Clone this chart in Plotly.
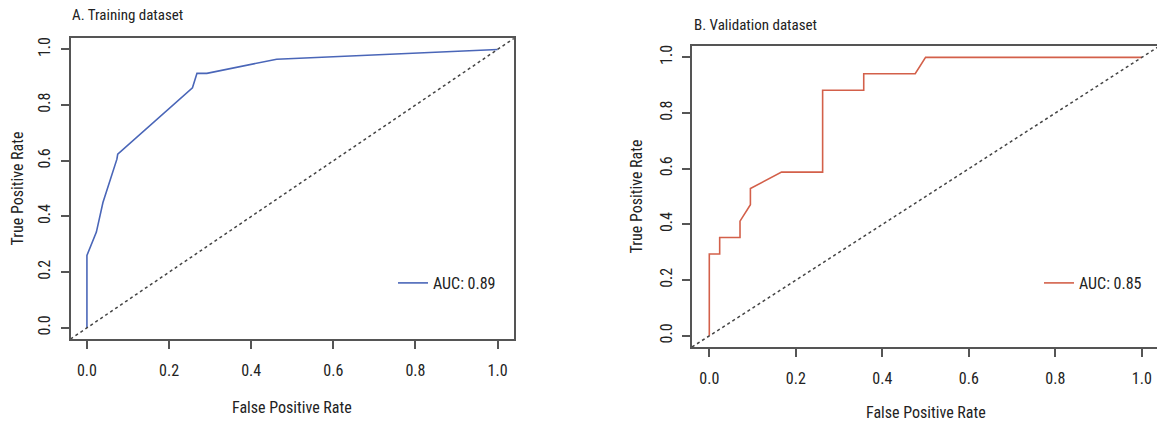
import plotly.graph_objects as go

# ---- data ----
train_fpr = [0.0, 0.0, 0.023, 0.039, 0.073, 0.075, 0.257, 0.268, 0.292, 0.462, 1.0]
train_tpr = [0.0, 0.26, 0.344, 0.45, 0.606, 0.624, 0.862, 0.914, 0.914, 0.965, 1.0]
train_auc = 0.89

valid_fpr = [0.0, 0.0, 0.024, 0.024, 0.071, 0.071, 0.095, 0.095, 0.167, 0.262, 0.262, 0.357, 0.357, 0.476, 0.5, 1.0]
valid_tpr = [0.0, 0.294, 0.294, 0.353, 0.353, 0.412, 0.471, 0.529, 0.588, 0.588, 0.882, 0.882, 0.941, 0.941, 1.0, 1.0]
valid_auc = 0.85

tick_vals = [0.0, 0.2, 0.4, 0.6, 0.8, 1.0]
tick_text = ["0.0", "0.2", "0.4", "0.6", "0.8", "1.0"]
diag = [-0.04, 1.04]

panel_titles = ["A. Training dataset", "B. Validation dataset"]
x_title = "False Positive Rate"
y_title = "True Positive Rate"

# ---- style ----
W, H = 1157, 421
FONT = "Liberation Sans Narrow, Arial Narrow, Roboto Condensed, DejaVu Sans Condensed, Liberation Sans, Arial, sans-serif"
TXT = "#222222"
AX = "#555555"
BLUE = "#4a66b8"
RED = "#d3604a"


def px_x(p):
    return p / W


def px_y(p):
    return (H - p) / H


fig = go.Figure()

fig.add_trace(go.Scatter(x=train_fpr, y=train_tpr, mode="lines",
                         line=dict(color=BLUE, width=1.6),
                         name=f"AUC: {train_auc:.2f}", xaxis="x", yaxis="y",
                         legend="legend"))
fig.add_trace(go.Scatter(x=diag, y=diag, mode="lines",
                         line=dict(color="#444444", width=1.5, dash="3px,3px"),
                         showlegend=False, xaxis="x", yaxis="y", hoverinfo="skip"))

fig.add_trace(go.Scatter(x=valid_fpr, y=valid_tpr, mode="lines",
                         line=dict(color=RED, width=1.6),
                         name=f"AUC: {valid_auc:.2f}", xaxis="x2", yaxis="y2",
                         legend="legend2"))
fig.add_trace(go.Scatter(x=diag, y=diag, mode="lines",
                         line=dict(color="#444444", width=1.5, dash="3px,3px"),
                         showlegend=False, xaxis="x2", yaxis="y2", hoverinfo="skip"))

axis_common = dict(
    showgrid=False, zeroline=False, showline=True, linecolor=AX, linewidth=1.5,
    ticks="outside", ticklen=8, tickwidth=1.5, tickcolor=AX,
    tickvals=tick_vals, ticktext=tick_text,
    tickfont=dict(family=FONT, size=16, color=TXT),
)

fig.update_layout(
    width=W, height=H,
    margin=dict(l=0, r=0, t=0, b=0),
    paper_bgcolor="white", plot_bgcolor="white",
    font=dict(family=FONT, size=16, color=TXT),
    xaxis=dict(**axis_common, domain=[px_x(70.5), px_x(514)], range=[-0.04, 1.04],
               mirror=True, anchor="y", ticklabelstandoff=8),
    yaxis=dict(**axis_common, domain=[px_y(339), px_y(38.3)], range=[-0.04, 1.04],
               mirror=True, anchor="x", tickangle=-90, ticklabelstandoff=4),
    xaxis2=dict(**axis_common, domain=[px_x(692), 1.0], range=[-0.04, 1.035],
                mirror=True, anchor="y2", ticklabelstandoff=8),
    yaxis2=dict(**axis_common, domain=[px_y(347), px_y(46.2)], range=[-0.04, 1.04],
                mirror=False, anchor="x2", tickangle=-90, ticklabelstandoff=4),
    legend=dict(x=px_x(393), y=px_y(283), xanchor="left", yanchor="middle",
                bgcolor="rgba(0,0,0,0)", borderwidth=0,
                font=dict(family=FONT, size=16, color=TXT)),
    legend2=dict(x=px_x(1039), y=px_y(283), xanchor="left", yanchor="middle",
                 bgcolor="rgba(0,0,0,0)", borderwidth=0,
                 font=dict(family=FONT, size=16, color=TXT)),
)

annotations = [
    dict(text=panel_titles[0], x=px_x(70), y=px_y(15), xanchor="left", yanchor="middle",
         font=dict(size=15)),
    dict(text=panel_titles[1], x=px_x(692), y=px_y(25), xanchor="left", yanchor="middle",
         font=dict(size=15)),
    dict(text=x_title, x=px_x(292), y=px_y(407), xanchor="center", yanchor="middle",
         font=dict(size=16)),
    dict(text=x_title, x=px_x(926), y=px_y(412), xanchor="center", yanchor="middle",
         font=dict(size=16)),
    dict(text=y_title, x=px_x(17), y=px_y(188.5), xanchor="center", yanchor="middle",
         textangle=-90, font=dict(size=16)),
    dict(text=y_title, x=px_x(636), y=px_y(196.5), xanchor="center", yanchor="middle",
         textangle=-90, font=dict(size=16)),
]
for a in annotations:
    a.update(xref="paper", yref="paper", showarrow=False)
    a["font"].update(family=FONT, color=TXT)
fig.update_layout(annotations=annotations)

fig.write_html("out.html", config={"displayModeBar": False})

# remove the browser's default page margin so the figure fills the window exactly
with open("out.html", "r", encoding="utf-8") as f:
    html = f.read()
html = html.replace("<head>", "<head><style>html,body{margin:0;padding:0;overflow:hidden;}</style>", 1)
with open("out.html", "w", encoding="utf-8") as f:
    f.write(html)
